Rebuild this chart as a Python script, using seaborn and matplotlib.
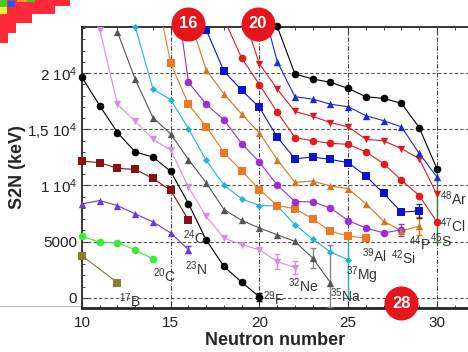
import numpy as np
import pandas as pd
import matplotlib
matplotlib.use('Agg')
import matplotlib.pyplot as plt
import seaborn as sns
from matplotlib.patches import Polygon, Rectangle
from matplotlib.lines import Line2D

# S2N values (keV), by isotope chain
b_n = [10, 12]
b_s2n = [3750, 1370]
c_n = [10, 11, 12, 13, 14]
c_s2n = [5480, 4970, 4910, 4290, 3450]
n_n = [10, 11, 12, 13, 14, 15, 16]
n_s2n = [8370, 8660, 8210, 7470, 6760, 5780, 4290]
o_n = [10, 11, 12, 13, 14, 15, 16]
o_s2n = [12170, 12030, 11520, 11430, 10630, 9560, 6930]
f_n = [10, 11, 12, 13, 14, 15, 16, 17, 18, 19, 20]
f_s2n = [19620, 17090, 14700, 12980, 12530, 11250, 8390, 5150, 2800, 1400, 90]
ne_n = [11, 12, 13, 14, 15, 16, 17, 18, 19, 20, 21, 22]
ne_s2n = [23840, 17210, 15720, 14110, 13130, 9850, 7260, 5330, 4730, 4290, 3240, 2700]
na_n = [12, 13, 14, 15, 16, 17, 18, 19, 20, 21, 22, 23, 24]
na_s2n = [23640, 19430, 16030, 14580, 12300, 10240, 7860, 6900, 6220, 5620, 5030, 3540, 1370]
mg_n = [13, 14, 15, 16, 17, 18, 19, 20, 21, 22, 23, 24, 25]
mg_s2n = [24080, 18570, 17620, 15060, 12230, 10040, 8810, 8220, 8180, 6520, 5240, 4080, 3390]
al_n = [14, 15, 16, 17, 18, 19, 20, 21, 22, 23, 24, 25, 26]
al_s2n = [28500, 20870, 17210, 15240, 12920, 11280, 9640, 8220, 7930, 7050, 5920, 5500, 5330]
si_n = [15, 16, 17, 18, 19, 20, 21, 22, 23, 24, 25, 26, 27, 28]
si_s2n = [30500, 19170, 17210, 15840, 13720, 12080, 10040, 8570, 8540, 8010, 6880, 6220, 5780, 6070]
p_n = [16, 17, 18, 19, 20, 21, 22, 23, 24, 25, 26, 27, 28, 29]
p_s2n = [25100, 20270, 18130, 16340, 14660, 12300, 10270, 10400, 9950, 9730, 8370, 6820, 5980, 6370]
s_n = [16, 17, 18, 19, 20, 21, 22, 23, 24, 25, 26, 27, 28, 29]
s_s2n = [27000, 23840, 20150, 18480, 16940, 14300, 12380, 12530, 12320, 12030, 10840, 9290, 7640, 7730]
cl_n = [18, 19, 20, 21, 22, 23, 24, 25, 26, 27, 28, 29, 30]
cl_s2n = [24800, 21320, 18960, 16520, 14260, 13970, 13750, 13660, 12980, 11940, 10470, 9110, 6760]
ar_n = [19, 20, 21, 22, 23, 24, 25, 26, 27, 28, 29, 30]
ar_s2n = [25500, 20810, 18570, 16580, 16140, 15600, 15210, 14110, 13960, 13280, 12380, 9200]
k_n = [20, 21, 22, 23, 24, 25, 26, 27, 28, 29, 30]
k_s2n = [27000, 21010, 17890, 17680, 17230, 17000, 16200, 15760, 15210, 12860, 10750]
ca_n = [21, 22, 23, 24, 25, 26, 27, 28, 29, 30]
ca_s2n = [24140, 19910, 19470, 19170, 18630, 17890, 17740, 17300, 15150, 11490]

# error bars on the last (least bound) points: (N, S2N, lower, upper, colour)
errs = [
    (16, 4290, 300, 300, '#6a3bd8'),
    (20, 90, 350, 350, 'black'),
    (21, 3240, 700, 700, '#d88ee0'),
    (22, 2700, 600, 600, '#d88ee0'),
    (23, 3540, 900, 900, '#888888'),
    (24, 1370, 2150, 3300, '#888888'),
    (25, 3390, 3390, 2200, '#1fb4d8'),
    (28, 6070, 550, 550, '#9a2fd6'),
    (29, 6370, 800, 800, '#d2781e'),
    (29, 7730, 650, 650, '#333333'),
    (30, 6760, 1760, 4840, '#3a7d30'),
]

series = [
    (b_n, b_s2n, '#8b7d2b', 's', 26),
    (c_n, c_s2n, '#33ee33', 'o', 30),
    (n_n, n_s2n, '#6a3bd8', '^', 28),
    (o_n, o_s2n, '#8b1010', 's', 26),
    (f_n, f_s2n, 'black', 'o', 30),
    (ne_n, ne_s2n, '#d88ee0', 'v', 28),
    (na_n, na_s2n, '#555555', '^', 28),
    (mg_n, mg_s2n, '#1fb4d8', 'D', 13),
    (al_n, al_s2n, '#f07820', 's', 26),
    (si_n, si_s2n, '#9a2fd6', 'o', 30),
    (p_n, p_s2n, '#d2781e', '^', 28),
    (s_n, s_s2n, '#0a14d0', 's', 26),
    (cl_n, cl_s2n, '#e41a1c', 'o', 30),
    (ar_n, ar_s2n, '#dd1a22', 'v', 28),
    (k_n, k_s2n, '#1a2ad8', '^', 28),
    (ca_n, ca_s2n, 'black', 'o', 30),
]

labels = ['$^{17}$B', '$^{20}$C', '$^{23}$N', '$^{24}$O', '$^{29}$F', '$^{32}$Ne',
          '$^{35}$Na', '$^{37}$Mg', '$^{39}$Al', '$^{42}$Si', '$^{44}$P', '$^{45}$S',
          '$^{47}$Cl', '$^{48}$Ar']
label_x = [12.1, 14.0, 15.8, 15.7, 20.2, 21.6, 24.0, 24.9, 25.8, 27.4, 28.45, 29.6, 30.15, 30.15]
label_y = [-250, 1960, 2630, 5400, -90, 1120, 220, 2000, 3800, 3550, 4850, 5050, 6450, 8800]

magic = ['16', '20', '28']
magic_x = [16, 19.9, 28]
magic_y = [24360, 24360, -470]

YTOP = 24090
sns.set_style('ticks')
plt.rcParams['font.family'] = ['Liberation Sans', 'DejaVu Sans']
plt.rcParams['mathtext.fontset'] = 'custom'
plt.rcParams['mathtext.rm'] = 'Liberation Sans'
plt.rcParams['mathtext.it'] = 'Liberation Sans:italic'
plt.rcParams['mathtext.bf'] = 'Liberation Sans:bold'

fig = plt.figure(figsize=(4.68, 3.52), dpi=100)
ax = fig.add_axes([82 / 468, 1 - 308 / 352, (468 - 82) / 468, (308 - 27) / 352])

for ns, vals, col, mk, sz in series:
    df = pd.DataFrame({'N': ns, 'S2N': vals})
    sns.lineplot(data=df, x='N', y='S2N', color=col, lw=0.8, ax=ax, zorder=3)
    vis = df[df['S2N'] <= YTOP + 300]
    sns.scatterplot(data=vis, x='N', y='S2N', color=col, marker=mk, s=sz,
                    linewidth=0, ax=ax, zorder=4, clip_on=False)

for n, v, lo, hi, col in errs:
    ax.errorbar([n], [v], yerr=[[lo], [hi]], fmt='none', ecolor=col,
                elinewidth=1.0, capsize=2.5, zorder=3)

for t, x, y in zip(labels, label_x, label_y):
    ax.text(x, y, t, fontsize=10, color='#333333', ha='left', va='center', zorder=5)

sns.scatterplot(x=magic_x, y=magic_y, color='#e8141c', s=600, linewidth=0,
                ax=ax, zorder=6, clip_on=False)
for t, x, y in zip(magic, magic_x, magic_y):
    ax.text(x, y, t, fontsize=12, fontweight='bold', color='white',
            ha='center', va='center', zorder=7)

ax.set_xlim(10, 31.75)
ax.set_ylim(-890, YTOP)
ax.set_xticks([10, 15, 20, 25, 30])
ax.set_yticks([0, 5000, 10000, 15000, 20000])
ax.set_yticklabels(['0', '5000', '1 10$^4$', '1,5 10$^4$', '2 10$^4$'])
ax.xaxis.set_minor_locator(matplotlib.ticker.MultipleLocator(1))
ax.yaxis.set_minor_locator(matplotlib.ticker.MultipleLocator(1000))
ax.tick_params(which='both', direction='in', top=True, right=False,
               labelsize=11, labelcolor='#222222')
ax.tick_params(axis='x', which='major', pad=6)
ax.tick_params(which='major', length=5)
ax.tick_params(which='minor', length=2.5)

ax.grid(False)
for yv in [0, 5000, 10000, 15000, 20000]:
    ax.axhline(yv, color='#555555', lw=0.8, ls=(0, (3, 2)), zorder=1)
for xv in [15, 20, 25, 30]:
    ax.axvline(xv, color='#444444', lw=0.8, ls=(0, (4, 1.5, 1, 1.5)), zorder=1)

for side in ['top', 'left']:
    ax.spines[side].set_linewidth(1.3)
ax.spines['bottom'].set_linewidth(2)
ax.spines['right'].set_visible(False)

ax.set_xlabel('Neutron number', fontsize=13, fontweight='bold', labelpad=1)
ax.set_ylabel('S2N (keV)', fontsize=13, fontweight='bold')
ax.yaxis.set_label_coords(-0.145, 0.5)

# corner fragment of the nuclide chart
W, H = 468.0, 352.0
def fp(px, py):
    return (px / W, 1 - py / H)
stair = [(0, 0), (70, 0), (70, 6), (55, 6), (55, 14), (32, 14), (32, 23), (16, 23),
         (16, 33), (8, 33), (8, 43), (0, 43)]
fig.add_artist(Polygon([fp(*p) for p in stair], closed=True, transform=fig.transFigure,
                       facecolor='#ff2a3a', edgecolor='none'))
for (x0, y0, w, h, col) in [(0, 0, 7, 7, '#44cc22'), (8, 1, 7, 6, '#1060ff'),
                            (0, 7, 7, 7, '#f0f040'), (17, 0, 10, 2, '#ff9a20'),
                            (27, 0, 8, 2, '#44cc22')]:
    fig.add_artist(Rectangle(fp(x0, y0 + h), w / W, h / H, transform=fig.transFigure,
                             facecolor=col, edgecolor='none'))
fig.add_artist(Line2D([0, 80 / W], [1 - 306 / H] * 2, transform=fig.transFigure,
                      color='#bbbbbb', lw=0.8))

fig.savefig('out.png', dpi=100)
